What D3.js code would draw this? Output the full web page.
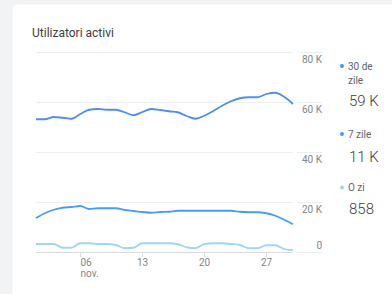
<!DOCTYPE html>
<html><head><meta charset="utf-8">
<script src="https://cdn.jsdelivr.net/npm/d3@7"></script>
<style>
html,body{margin:0;padding:0;background:#f1f3f4;}
svg{display:block;font-family:Roboto,"Noto Sans",sans-serif;}
</style></head>
<body>
<svg id="c" width="392" height="294"></svg>
<script>
const days = d3.range(1, 31).map(d => new Date(2023, 10, d));
const thirtyDays = [53.3,53.3,54.2,53.9,53.5,55.4,57.1,57.4,57.1,57.1,56.1,54.9,56.2,57.4,57.0,56.5,56.1,54.6,53.5,54.7,56.6,58.7,60.5,61.7,62.1,62.1,63.4,63.9,62.3,59.4];
const sevenDays = [13.8,15.7,17.1,17.9,18.2,18.6,17.4,17.7,17.7,17.7,17.0,16.6,16.2,15.9,16.2,16.3,16.7,16.7,16.7,16.7,16.7,16.7,16.7,16.3,16.1,16.1,15.7,14.7,13.1,11.3];
const oneDay = [3.4,3.4,3.4,1.9,1.9,3.7,3.7,3.4,3.4,3.0,1.7,1.9,3.7,3.7,3.7,3.7,3.3,2.1,1.7,3.4,3.7,3.7,3.4,3.0,1.7,1.7,2.9,2.9,1.4,0.9];
const yTicks = [0, 20, 40, 60, 80];
const yTickLabels = ["0", "20 K", "40 K", "60 K", "80 K"];
const xTickDates = [6, 13, 20, 27].map(d => new Date(2023, 10, d));
const xTickLabels = ["06", "13", "20", "27"];
const seriesNames = ["30 de zile", "7 zile", "O zi"];
const seriesTotals = ["59 K", "11 K", "858"];
const seriesColors = ["#4d8ef0", "#4a9cf2", "#9fd6f2"];
const title = "Utilizatori activi";

const svg = d3.select("#c");
// card
svg.append("rect").attr("x", 12).attr("y", 4).attr("width", 400).attr("height", 300)
  .attr("rx", 6).attr("fill", "#fff").attr("stroke", "#eceef0").attr("stroke-width", 0.6);

svg.append("text").attr("x", 32).attr("y", 37).attr("font-size", 12).attr("fill", "#3c4043").text(title);

const x = d3.scaleTime().domain([days[0], days[days.length - 1]]).range([36, 293]);
const y = d3.scaleLinear().domain([0, 80]).range([252.5, 52.5]);

// gridlines (two segments)
const g = svg.append("g");
yTicks.forEach((t, i) => {
  g.append("line").attr("x1", 36).attr("x2", 293).attr("y1", y(t)).attr("y2", y(t))
    .attr("stroke", "#eceff1").attr("stroke-width", 1.2);
  g.append("line").attr("x1", 297).attr("x2", 322).attr("y1", y(t)).attr("y2", y(t))
    .attr("stroke", "#eceff1").attr("stroke-width", 1.2);
  g.append("text").attr("x", 322).attr("y", t === 0 ? y(t) - 4 : y(t) + 10)
    .attr("text-anchor", "end").attr("font-size", 10).attr("fill", "#80868b").text(yTickLabels[i]);
});

// x axis
svg.append("line").attr("x1", 36).attr("x2", 293).attr("y1", 252.5).attr("y2", 252.5)
  .attr("stroke", "#dadce0").attr("stroke-width", 1);
xTickDates.forEach((d, i) => {
  const xx = Math.round(x(d)) + 0.5;
  svg.append("line").attr("x1", xx).attr("x2", xx).attr("y1", 252.5).attr("y2", 257)
    .attr("stroke", "#dadce0");
  const first = i === 0;
  svg.append("text").attr("x", xx).attr("y", 266)
    .attr("text-anchor", first ? "start" : "middle").attr("font-size", 10).attr("fill", "#80868b")
    .text(xTickLabels[i]);
  if (first) svg.append("text").attr("x", xx).attr("y", 277).attr("font-size", 10)
    .attr("fill", "#80868b").text("nov.");
});

const line = d3.line().x((d, i) => x(days[i])).y(d => y(d)).curve(d3.curveMonotoneX);
[thirtyDays, sevenDays, oneDay].forEach((s, k) => {
  svg.append("path").attr("d", line(s)).attr("fill", "none")
    .attr("stroke", seriesColors[k]).attr("stroke-width", 1.8);
});

// legend
const leg = [
  {dotY: 66, lines: ["30 de", "zile"], valY: 106},
  {dotY: 134, lines: ["7 zile"], valY: 162},
  {dotY: 187.5, lines: ["O zi"], valY: 214}
];
leg.forEach((l, k) => {
  svg.append("circle").attr("cx", 342).attr("cy", l.dotY).attr("r", 2).attr("fill", seriesColors[k]);
  l.lines.forEach((t, j) => svg.append("text").attr("x", 348).attr("y", l.dotY + 3.5 + j * 14)
    .attr("font-size", 10).attr("fill", "#5f6368").text(t));
  svg.append("text").attr("x", 349).attr("y", l.valY).attr("font-size", 15)
    .attr("font-weight", 300).attr("fill", "#3c4043").text(seriesTotals[k]);
});
</script>
</body></html>
